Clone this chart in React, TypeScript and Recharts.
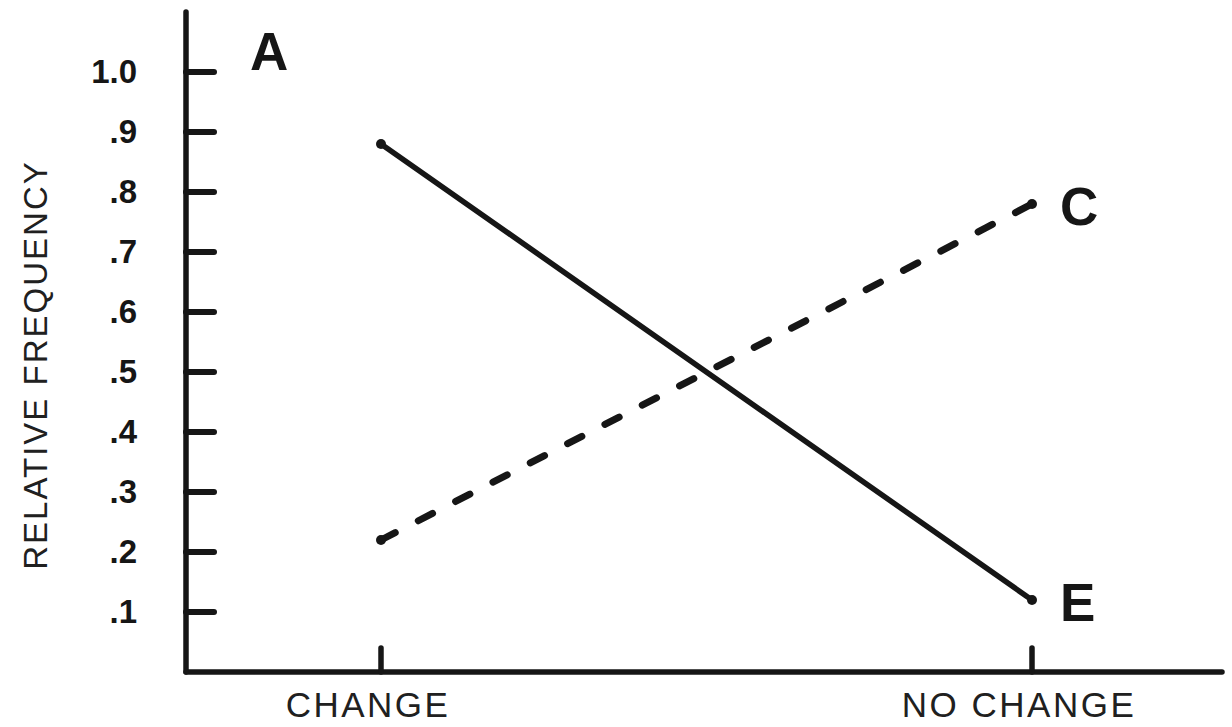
import React from 'react';
import { LineChart, Line, XAxis, YAxis } from 'recharts';

const categories = ['CHANGE', 'NO CHANGE'];
const seriesE = [0.88, 0.12];
const seriesC = [0.22, 0.78];
const yTicks = [0.1, 0.2, 0.3, 0.4, 0.5, 0.6, 0.7, 0.8, 0.9, 1.0];
const yTickLabels = ['.1', '.2', '.3', '.4', '.5', '.6', '.7', '.8', '.9', '1.0'];
const seriesNames = { E: 'E', C: 'C' };
const panelLabel = 'A';
const yTitle = 'RELATIVE FREQUENCY';

const data = categories.map((cat, i) => ({ cat, E: seriesE[i], C: seriesC[i] }));

const INK = '#161616';
const SANS = "'Liberation Sans', Arial, Helvetica, sans-serif";

const YTick = (props: any) => {
  const { x, y, payload } = props;
  const idx = yTicks.indexOf(payload.value);
  const label = idx >= 0 ? yTickLabels[idx] : String(payload.value);
  return (
    <g>
      <line x1={x} y1={y} x2={x + 28} y2={y} stroke={INK} strokeWidth={6} strokeLinecap="round" />
      <text x={x - 49} y={y + 11} textAnchor="end" fontFamily={SANS} fontWeight={700} fontSize={33} fill={INK}>
        {label}
      </text>
    </g>
  );
};

const XTick = (props: any) => {
  const { x, y, payload } = props;
  return (
    <g>
      <line x1={x} y1={y} x2={x} y2={y - 24} stroke={INK} strokeWidth={5.5} strokeLinecap="round" />
      <text x={x - 13} y={y + 45} textAnchor="middle" fontFamily={SANS} fontWeight={400} fontSize={35} letterSpacing={2.5} fill="#202020">
        {payload.value}
      </text>
    </g>
  );
};

const endLabel = (name: string) => (props: any) => {
  const { x, y, index } = props;
  if (index !== data.length - 1) return <g />;
  return (
    <text x={x + 28} y={y + 21} fontFamily={SANS} fontWeight={700} fontSize={53} fill={INK}>
      {name}
    </text>
  );
};

const endDot = (props: any) => {
  const { cx, cy, index } = props;
  return <circle key={`d${index}`} cx={cx} cy={cy} r={5} fill={INK} />;
};

const YTitle = (props: any) => {
  const vb = props.viewBox || { x: 106, y: 12, width: 80, height: 660 };
  const cx = vb.x - 71;
  const cy = vb.y + vb.height / 2 + 23;
  return (
    <g>
      <text
        x={cx}
        y={cy}
        transform={`rotate(-90 ${cx} ${cy})`}
        textAnchor="middle"
        dominantBaseline="central"
        fontFamily={SANS}
        fontWeight={400}
        fontSize={33}
        letterSpacing={2}
        fill="#202020"
      >
        {yTitle}
      </text>
      <text x={vb.x + vb.width + 64} y={vb.y + 58} fontFamily={SANS} fontWeight={700} fontSize={53} fill={INK}>
        {panelLabel}
      </text>
    </g>
  );
};

export default function App() {
  return (
    <div style={{ position: 'absolute', left: 0, top: 0, width: 1232, height: 727, background: '#fff' }}>
      <LineChart width={1232} height={727} data={data} margin={{ top: 12, right: 10, bottom: 25, left: 106 }}>
        <XAxis
          dataKey="cat"
          type="category"
          height={30}
          padding={{ left: 195, right: 190 }}
          axisLine={{ stroke: INK, strokeWidth: 5.5, strokeLinecap: 'round' }}
          tickLine={false}
          tickSize={0}
          tickMargin={0}
          tick={<XTick />}
          interval={0}
        />
        <YAxis
          type="number"
          domain={[0, 1.1]}
          ticks={yTicks}
          allowDataOverflow
          width={80}
          axisLine={{ stroke: INK, strokeWidth: 5.5, strokeLinecap: 'round' }}
          tickLine={false}
          tickSize={0}
          tickMargin={0}
          tick={<YTick />}
          interval={0}
          label={<YTitle />}
        />
        <Line
          dataKey="E"
          name={seriesNames.E}
          type="linear"
          stroke={INK}
          strokeWidth={5.5}
          strokeLinecap="round"
          dot={endDot}
          activeDot={false}
          label={endLabel(seriesNames.E)}
          isAnimationActive={false}
        />
        <Line
          dataKey="C"
          name={seriesNames.C}
          type="linear"
          stroke={INK}
          strokeWidth={7}
          strokeDasharray="16 26"
          strokeLinecap="round"
          dot={endDot}
          activeDot={false}
          label={endLabel(seriesNames.C)}
          isAnimationActive={false}
        />
      </LineChart>
    </div>
  );
}
